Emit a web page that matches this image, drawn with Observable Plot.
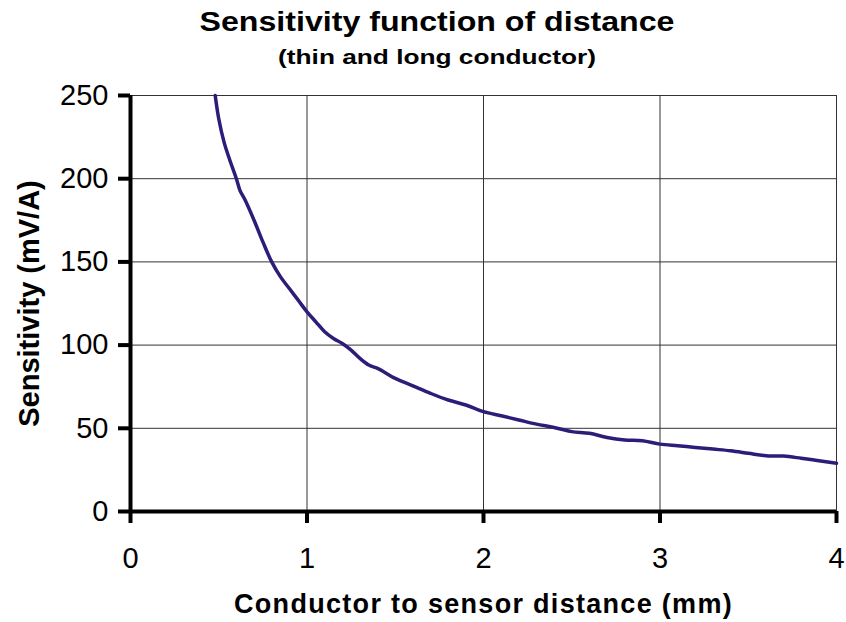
<!DOCTYPE html>
<html>
<head>
<meta charset="utf-8">
<script src="https://cdn.jsdelivr.net/npm/d3@7"></script>
<script src="https://cdn.jsdelivr.net/npm/@observablehq/plot@0.6"></script>
<style>
  html, body { margin: 0; padding: 0; background: #fff; }
  #wrap { position: relative; width: 846px; height: 622px; font-family: "Liberation Sans", Arial, sans-serif; color: #000; }
  .ttl { position: absolute; left: 437px; white-space: nowrap; font-weight: bold; transform-origin: center; }
  #title { top: 9px; font-size: 27px; line-height: 27px; transform: translateX(-50%) scaleX(1.19); }
  #subtitle { top: 46px; font-size: 21px; line-height: 21px; transform: translateX(-50%) scaleX(1.25); }
  #chart { position: absolute; left: 0; top: 80px; }
</style>
</head>
<body>
<div id="wrap">
  <div id="title" class="ttl"></div>
  <div id="subtitle" class="ttl"></div>
  <div id="chart"></div>
</div>
<script>
const titleText = "Sensitivity function of distance";
const subtitleText = "(thin and long conductor)";
const xLabel = "Conductor to sensor distance (mm)";
const yLabel = "Sensitivity (mV/A)";
const xTicks = [0, 1, 2, 3, 4];
const yTicks = [0, 50, 100, 150, 200, 250];
const distance = [0.48,0.5,0.53,0.56,0.6,0.62,0.65,0.7,0.75,0.8,0.85,0.9,0.95,1.0,1.05,1.1,1.15,1.2,1.25,1.3,1.35,1.4,1.5,1.6,1.7,1.8,1.9,2.0,2.1,2.2,2.3,2.4,2.5,2.6,2.7,2.8,2.9,3.0,3.1,3.2,3.3,3.4,3.5,3.6,3.7,3.8,3.9,4.0];
const sensitivity = [250,236,222,212,200,193,187,175,162,150,141,134,127,120,114,108,104,101,97,92,88,86,80,75.5,71,67,64,60,57.5,55,52.5,50.5,48,47,44.5,43,42.5,40.5,39.5,38.5,37.5,36.5,35,33.5,33.3,32,30.5,29];

document.getElementById("title").textContent = titleText;
document.getElementById("subtitle").textContent = subtitleText;

const data = distance.map((d, i) => ({d, s: sensitivity[i]}));

const svg = Plot.plot({
  width: 846,
  height: 542,
  marginLeft: 130,
  marginRight: 10,
  marginTop: 15,
  marginBottom: 111,
  x: {domain: [0, 4]},
  y: {domain: [0, 250]},
  style: {fontFamily: "'Liberation Sans', Arial, sans-serif", color: "#000", background: "white", overflow: "visible"},
  marks: [
    Plot.gridY([50, 100, 150, 200, 250], {stroke: "#333", strokeOpacity: 1, strokeWidth: 1}),
    Plot.gridX([1, 2, 3, 4], {stroke: "#333", strokeOpacity: 1, strokeWidth: 1}),
    Plot.line(data, {x: "d", y: "s", stroke: "#2e1c78", strokeWidth: 3.5, curve: "catmull-rom"}),
    Plot.ruleY([0], {stroke: "#000", strokeWidth: 4}),
    Plot.ruleX([0], {stroke: "#000", strokeWidth: 4}),
    Plot.axisY(yTicks, {tickSize: 12, tickPadding: 10, strokeWidth: 4, fontSize: 29, label: null, tickFormat: d3.format("d")}),
    Plot.axisX(xTicks, {tickSize: 12, tickPadding: 24, strokeWidth: 4, fontSize: 29, label: null, tickFormat: d3.format("d")}),
    Plot.text([xLabel], {text: d => d, frameAnchor: "bottom", lineAnchor: "middle", dy: 93, fontSize: 27, fontWeight: "bold"}),
    Plot.text([yLabel], {text: d => d, frameAnchor: "left", textAnchor: "middle", lineAnchor: "middle", rotate: -90, dx: -101, fontSize: 29, fontWeight: "bold"})
  ]
});

d3.select(svg).selectAll("text").filter(function() { return this.textContent === xLabel; })
  .style("letter-spacing", "1.3px");

document.getElementById("chart").appendChild(svg);
</script>
</body>
</html>
